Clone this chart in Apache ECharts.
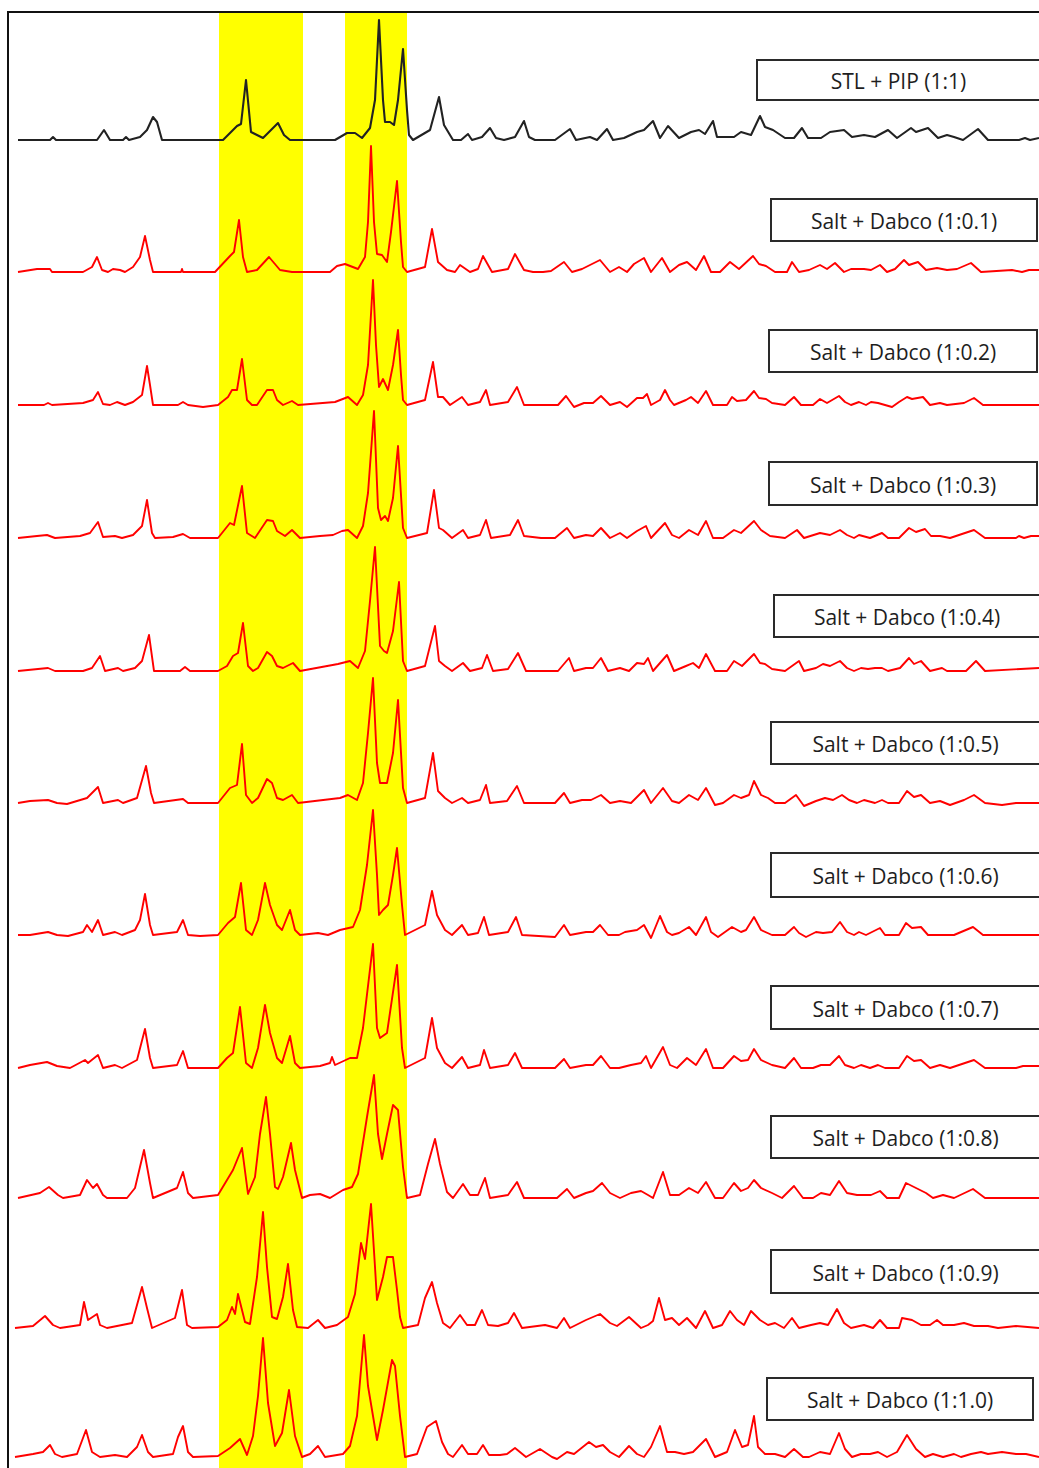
<!DOCTYPE html>
<html>
<head>
<meta charset="utf-8">
<script src="https://cdn.jsdelivr.net/npm/echarts@6/dist/echarts.min.js"></script>
<style>
html,body{margin:0;padding:0;background:#fff;}
#chart{width:1039px;height:1468px;}
</style>
</head>
<body>
<div id="chart"></div>
<script>
// Sample names (top to bottom)
const sampleNames = ['STL + PIP (1:1)','Salt + Dabco (1:0.1)','Salt + Dabco (1:0.2)','Salt + Dabco (1:0.3)','Salt + Dabco (1:0.4)','Salt + Dabco (1:0.5)','Salt + Dabco (1:0.6)','Salt + Dabco (1:0.7)','Salt + Dabco (1:0.8)','Salt + Dabco (1:0.9)','Salt + Dabco (1:1.0)'];
// Vertical stacking offsets of each pattern (intensity units)
const offsets = [1328, 1196, 1063, 930, 797, 665, 533, 400, 270, 140, 11];
// Highlighted 2θ ranges
const bands = [[10.95, 15.15], [17.25, 20.35]];

// Patterns: [2θ, intensity above own baseline]
const stlPip = [[0.9,0],[2.5,0],[2.65,3],[2.8,0],[4.85,0],[5.2,10],[5.5,0],[6.15,0],[6.3,3],[6.45,0],[7.0,3],[7.35,10],[7.65,23],[7.85,18],[8.1,0],[11.15,0],[11.5,7],[11.85,14],[12.05,16],[12.3,60],[12.55,8],[13.15,2],[13.9,17],[14.2,5],[14.5,0],[16.75,0],[17.35,7],[17.75,7],[18.1,2],[18.5,12],[18.75,40],[18.95,120],[19.15,40],[19.25,18],[19.5,18],[19.7,15],[19.9,40],[20.15,91],[20.35,30],[20.45,5],[20.65,0],[21.5,10],[21.95,43],[22.2,15],[22.35,10],[22.65,0],[23.05,0],[23.4,6],[23.6,0],[24.1,3],[24.5,12],[24.8,2],[25.2,0],[25.75,3],[26.2,19],[26.45,3],[26.75,0],[27.75,0],[28.5,11],[28.8,0],[29.5,3],[29.85,0],[30.35,11],[30.65,0],[31.2,2],[31.85,8],[32.2,10],[32.65,19],[33.0,2],[33.4,14],[33.95,2],[34.55,8],[34.95,10],[35.25,6],[35.65,19],[35.85,3],[36.7,3],[37.05,8],[37.55,5],[38.0,24],[38.25,13],[38.65,10],[39.25,2],[39.7,2],[40.1,12],[40.4,2],[41.05,2],[41.5,8],[42.2,10],[42.6,3],[43.2,5],[43.75,3],[44.4,10],[44.85,2],[45.55,12],[45.8,8],[46.4,12],[46.9,2],[47.35,5],[47.7,3],[48.15,0],[48.9,11],[49.4,0],[50.95,0],[51.25,2],[51.5,0],[51.95,2]];

const dabco01 = [[0.9,0],[1.85,3],[2.5,3],[2.6,0],[4.15,0],[4.6,5],[4.85,15],[5.1,2],[5.4,0],[5.65,3],[6.0,2],[6.25,0],[6.65,5],[7.0,15],[7.25,36],[7.5,12],[7.65,0],[9.05,0],[9.1,3],[9.15,0],[10.75,0],[11.5,16],[11.7,20],[11.95,52],[12.15,15],[12.35,0],[12.85,2],[13.45,15],[14.0,2],[14.6,0],[16.5,0],[16.85,6],[17.25,8],[17.9,3],[18.25,15],[18.4,50],[18.55,126],[18.7,50],[18.85,18],[19.1,17],[19.35,10],[19.55,40],[19.85,91],[20.05,30],[20.15,5],[20.35,0],[21.25,5],[21.6,43],[21.9,10],[22.35,2],[22.75,0],[23.0,7],[23.5,0],[23.9,3],[24.15,16],[24.6,0],[25.4,3],[25.75,18],[26.2,2],[26.65,0],[27.15,0],[27.55,1],[28.2,10],[28.6,0],[29.1,3],[30.0,12],[30.5,0],[30.95,5],[31.35,0],[31.7,8],[32.2,14],[32.55,0],[33.1,14],[33.5,0],[33.95,7],[34.35,10],[34.8,2],[35.2,16],[35.55,0],[36.0,0],[36.5,10],[36.95,3],[37.65,16],[37.95,8],[38.3,6],[38.75,0],[39.35,0],[39.6,10],[39.95,0],[40.45,2],[41.0,7],[41.35,3],[41.75,9],[42.2,0],[42.55,3],[43.2,3],[43.55,2],[44.0,7],[44.35,0],[44.75,3],[45.2,12],[45.45,7],[45.9,10],[46.3,2],[46.85,4],[47.35,2],[47.85,3],[48.55,9],[49.05,0],[50.6,2],[51.1,0],[51.45,2],[51.95,2]];

const dabco02 = [[0.9,0],[2.2,0],[2.4,2],[2.6,0],[4.15,2],[4.65,5],[4.9,13],[5.15,1],[5.5,0],[5.85,3],[6.25,0],[6.65,3],[7.1,10],[7.35,39],[7.5,20],[7.65,0],[8.9,0],[9.15,3],[9.4,0],[10.15,-2],[10.9,0],[11.4,8],[11.6,15],[11.85,15],[12.1,46],[12.35,5],[12.6,0],[12.85,0],[13.35,15],[13.65,15],[13.85,5],[14.15,0],[14.6,4],[14.9,0],[16.75,3],[17.4,8],[17.85,0],[18.15,10],[18.4,40],[18.65,125],[18.8,60],[18.95,18],[19.15,26],[19.4,15],[19.65,40],[19.9,75],[20.05,30],[20.15,5],[20.35,0],[21.25,5],[21.65,43],[21.9,8],[22.15,8],[22.5,0],[23.1,8],[23.4,0],[24.0,3],[24.3,15],[24.5,0],[25.4,3],[25.85,18],[26.2,0],[27.9,0],[28.3,9],[28.7,-2],[29.2,2],[29.65,2],[30.05,9],[30.5,0],[31.0,3],[31.35,-2],[31.85,7],[32.15,7],[32.35,11],[32.55,0],[33.0,5],[33.25,15],[33.5,5],[33.7,0],[34.3,5],[34.55,8],[34.9,2],[35.3,14],[35.65,0],[36.35,0],[36.6,8],[36.85,4],[37.3,5],[37.7,14],[37.95,7],[38.3,6],[38.6,2],[39.25,0],[39.7,8],[40.05,0],[40.65,0],[41.0,6],[41.35,2],[41.95,9],[42.25,3],[42.55,0],[42.95,3],[43.3,0],[43.55,3],[43.9,2],[44.6,-2],[44.95,3],[45.35,8],[45.6,6],[46.15,8],[46.5,0],[47.0,2],[47.35,0],[48.2,2],[48.7,7],[49.15,0],[51.95,0]];

const dabco03 = [[0.9,0],[1.85,2],[2.35,3],[2.75,0],[4.0,2],[4.5,5],[4.9,16],[5.15,1],[5.75,2],[6.1,0],[6.65,3],[7.1,12],[7.35,38],[7.6,5],[7.75,0],[8.65,1],[9.15,4],[9.5,0],[10.9,0],[11.5,15],[11.7,13],[12.1,52],[12.35,5],[12.75,0],[13.35,18],[13.65,17],[13.85,7],[14.25,2],[14.6,8],[15.0,0],[16.0,2],[16.65,3],[17.1,7],[17.4,8],[17.85,0],[18.15,12],[18.4,45],[18.7,127],[18.9,30],[19.05,18],[19.25,22],[19.4,17],[19.65,40],[19.9,92],[20.15,10],[20.35,0],[21.35,5],[21.7,48],[21.95,10],[22.15,8],[22.6,0],[23.15,8],[23.4,0],[24.0,3],[24.3,18],[24.55,0],[25.5,3],[25.9,18],[26.2,2],[27.05,0],[27.75,0],[28.35,10],[28.7,0],[29.3,3],[29.65,2],[30.05,10],[30.5,0],[31.0,5],[31.35,0],[31.85,7],[32.3,12],[32.55,0],[33.25,15],[33.6,3],[33.95,0],[34.45,8],[34.9,3],[35.3,17],[35.65,0],[36.15,0],[36.7,8],[37.05,5],[37.7,17],[38.05,8],[38.5,2],[39.25,0],[39.85,8],[40.2,0],[41.0,5],[41.5,3],[42.0,8],[42.35,3],[42.7,0],[42.95,3],[43.5,0],[44.1,5],[44.4,0],[44.95,0],[45.45,10],[45.8,6],[46.25,9],[46.55,2],[47.0,2],[47.5,0],[48.7,8],[49.25,0],[50.8,0],[50.95,2],[51.2,0],[51.55,2],[51.95,2]];

const dabco04 = [[0.9,0],[2.4,3],[2.75,0],[4.15,0],[4.6,3],[5.0,15],[5.25,0],[5.9,3],[6.15,0],[6.75,3],[7.1,10],[7.45,36],[7.7,0],[9.0,0],[9.25,4],[9.5,0],[10.9,0],[11.35,5],[11.65,15],[11.9,18],[12.15,48],[12.4,5],[12.65,0],[12.9,3],[13.35,19],[13.6,15],[13.85,5],[14.15,3],[14.65,8],[15.0,0],[16.9,7],[17.5,10],[17.9,3],[18.25,20],[18.5,70],[18.75,124],[19.0,25],[19.2,20],[19.35,18],[19.65,40],[19.95,89],[20.15,10],[20.35,0],[21.25,5],[21.75,45],[21.95,10],[22.25,5],[22.6,0],[23.15,8],[23.5,0],[24.1,3],[24.35,16],[24.65,0],[25.4,2],[25.9,18],[26.3,0],[27.9,0],[28.45,13],[28.7,0],[29.3,3],[29.65,3],[30.05,13],[30.4,0],[31.0,3],[31.45,0],[31.85,8],[32.2,7],[32.4,13],[32.65,0],[33.0,8],[33.35,16],[33.7,0],[34.3,5],[34.65,8],[34.95,3],[35.3,17],[35.75,0],[36.35,0],[36.7,10],[37.1,5],[37.7,17],[38.0,8],[38.25,7],[38.6,2],[39.25,0],[39.95,10],[40.2,0],[40.8,3],[41.15,7],[41.5,5],[42.0,10],[42.35,3],[42.7,0],[43.05,3],[43.4,2],[43.75,3],[44.1,3],[44.4,0],[45.0,3],[45.45,13],[45.7,7],[46.05,10],[46.5,0],[47.1,3],[47.35,0],[48.3,0],[48.8,10],[49.25,0],[51.95,3]];

const dabco05 = [[0.9,0],[1.5,2],[2.4,3],[2.85,0],[3.35,-1],[4.35,5],[4.9,16],[5.15,0],[5.9,3],[6.15,0],[6.85,5],[7.3,37],[7.55,10],[7.7,0],[9.15,4],[9.4,0],[10.9,0],[11.5,15],[11.85,18],[12.1,59],[12.3,8],[12.6,0],[12.9,5],[13.35,24],[13.6,20],[13.85,5],[14.15,3],[14.6,8],[14.9,0],[17.0,5],[17.4,8],[17.85,3],[18.15,20],[18.4,70],[18.65,125],[18.85,40],[19.0,20],[19.35,20],[19.65,50],[19.9,103],[20.15,15],[20.35,0],[21.25,5],[21.65,50],[21.9,12],[22.25,5],[22.6,0],[23.1,5],[23.4,0],[24.0,3],[24.3,18],[24.5,0],[25.35,2],[25.85,17],[26.2,0],[27.75,0],[28.2,10],[28.5,0],[29.1,3],[29.55,3],[30.05,8],[30.5,0],[31.0,2],[31.55,0],[31.85,6],[32.2,13],[32.55,0],[33.15,15],[33.6,2],[33.95,0],[34.45,8],[34.9,3],[35.3,15],[35.75,-2],[36.15,0],[36.7,8],[37.05,5],[37.45,8],[37.7,22],[38.05,8],[38.4,5],[38.75,0],[39.25,0],[39.8,8],[40.2,-3],[40.8,2],[41.25,5],[41.65,3],[42.1,8],[42.45,3],[42.85,0],[43.2,3],[43.75,0],[44.1,3],[44.4,0],[44.95,0],[45.35,12],[45.7,6],[46.05,8],[46.5,0],[47.0,2],[47.5,-2],[48.2,3],[48.7,8],[49.25,0],[50.1,-2],[50.8,0],[51.95,0]];

const dabco06 = [[0.9,0],[1.5,0],[2.4,3],[2.85,0],[3.4,-1],[4.15,3],[4.35,10],[4.6,3],[4.9,15],[5.15,0],[5.75,3],[6.1,0],[6.75,5],[7.0,15],[7.25,41],[7.5,10],[7.65,0],[8.85,3],[9.15,15],[9.4,0],[10.0,-1],[10.9,0],[11.4,12],[11.75,18],[12.05,52],[12.3,5],[12.6,0],[12.9,15],[13.25,52],[13.5,30],[13.85,10],[14.1,5],[14.5,25],[14.75,5],[15.0,0],[15.9,2],[16.4,0],[17.0,5],[17.65,8],[18.0,25],[18.35,70],[18.65,125],[18.85,60],[18.95,20],[19.15,25],[19.4,30],[19.65,60],[19.85,87],[20.1,30],[20.25,0],[21.25,10],[21.6,44],[21.85,20],[22.25,5],[22.6,0],[23.1,10],[23.4,0],[23.9,2],[24.2,18],[24.45,0],[25.4,3],[25.8,18],[26.1,0],[27.75,-2],[28.2,10],[28.5,0],[29.3,3],[29.65,3],[30.0,10],[30.4,0],[30.95,0],[31.25,3],[31.85,5],[32.2,10],[32.55,-3],[33.0,19],[33.35,3],[33.6,0],[33.95,2],[34.45,8],[34.8,0],[35.3,18],[35.55,3],[35.9,-2],[36.6,8],[37.05,3],[37.3,5],[37.7,18],[38.05,5],[38.6,0],[39.25,0],[39.7,8],[39.95,2],[40.3,-2],[40.8,3],[41.15,2],[41.6,3],[42.0,13],[42.35,3],[42.7,0],[42.95,3],[43.3,0],[44.0,7],[44.25,0],[44.95,0],[45.3,12],[45.6,7],[46.05,8],[46.4,0],[47.15,0],[47.7,0],[48.65,8],[49.15,0],[51.95,0]];

const dabco07 = [[0.9,0],[1.5,3],[2.35,6],[2.85,2],[3.5,0],[4.25,8],[4.4,5],[4.9,13],[5.15,0],[5.75,3],[6.1,0],[6.85,8],[7.25,39],[7.5,10],[7.65,0],[8.85,3],[9.15,17],[9.4,0],[10.9,0],[11.35,10],[11.65,15],[12.0,61],[12.3,5],[12.6,0],[12.9,20],[13.25,63],[13.5,35],[13.85,10],[14.1,5],[14.5,32],[14.75,5],[15.0,0],[16.0,2],[16.5,5],[16.6,11],[16.75,3],[17.5,10],[17.85,10],[18.15,40],[18.65,124],[18.85,40],[19.0,30],[19.35,35],[19.85,103],[20.1,20],[20.25,0],[21.25,10],[21.6,50],[21.85,20],[22.25,5],[22.6,0],[23.1,11],[23.4,0],[24.0,3],[24.2,18],[24.5,0],[25.4,3],[25.75,15],[26.1,0],[27.75,0],[28.2,9],[28.5,0],[29.3,3],[29.65,3],[30.05,12],[30.5,0],[30.95,0],[31.55,3],[32.05,5],[32.3,12],[32.55,0],[33.15,21],[33.5,3],[33.85,0],[34.35,10],[34.8,3],[35.3,19],[35.65,0],[36.15,0],[36.7,12],[37.05,7],[37.4,8],[37.7,19],[38.05,8],[38.6,3],[39.25,0],[39.7,10],[40.05,0],[40.65,0],[41.05,3],[41.5,3],[41.95,12],[42.25,3],[42.7,0],[43.05,3],[43.5,0],[43.9,3],[44.25,0],[44.95,0],[45.35,12],[45.7,7],[46.05,8],[46.5,0],[47.0,3],[47.5,0],[48.7,8],[49.25,0],[50.8,0],[51.15,2],[51.95,2]];

const dabco08 = [[0.9,0],[2.0,5],[2.45,11],[2.9,3],[3.15,0],[4.0,3],[4.35,18],[4.65,10],[4.85,14],[5.15,3],[5.35,0],[6.35,0],[6.75,10],[7.2,48],[7.5,15],[7.65,0],[8.85,10],[9.15,26],[9.4,5],[9.65,0],[10.9,3],[11.65,28],[12.1,50],[12.4,4],[12.75,21],[13.0,64],[13.3,101],[13.5,64],[13.75,11],[13.9,9],[14.15,21],[14.55,55],[14.75,28],[15.1,0],[15.5,3],[16.0,4],[16.5,0],[17.15,8],[17.6,11],[17.9,24],[18.35,81],[18.7,123],[18.9,64],[19.1,39],[19.35,64],[19.65,93],[19.9,88],[20.15,31],[20.35,0],[21.0,3],[21.4,34],[21.75,59],[22.0,34],[22.35,6],[22.65,0],[23.15,14],[23.5,3],[23.9,3],[24.25,20],[24.5,0],[25.4,3],[25.85,16],[26.2,0],[27.25,0],[27.85,0],[28.35,9],[28.7,0],[29.3,5],[29.65,7],[30.1,15],[30.5,5],[31.0,0],[31.55,5],[32.05,7],[32.4,3],[32.65,0],[33.15,26],[33.5,3],[33.95,3],[34.45,10],[34.9,5],[35.3,16],[35.75,0],[36.15,0],[36.7,15],[37.05,7],[37.4,10],[37.7,18],[38.05,10],[38.6,5],[39.1,0],[39.7,12],[40.15,0],[40.65,0],[41.05,5],[41.5,3],[41.95,17],[42.35,5],[42.85,3],[43.55,3],[44.0,7],[44.35,0],[44.95,0],[45.3,15],[45.8,10],[46.3,5],[46.65,0],[47.15,3],[47.7,0],[48.65,9],[49.25,0],[51.95,0]];

const dabco09 = [[0.75,0],[1.65,2],[2.25,12],[2.65,3],[3.0,0],[4.0,3],[4.2,26],[4.4,8],[4.85,14],[5.0,3],[5.35,0],[6.6,5],[7.1,41],[7.35,20],[7.6,0],[8.75,10],[9.1,38],[9.35,3],[9.6,0],[10.9,1],[11.35,8],[11.6,21],[11.75,14],[11.9,34],[12.25,6],[12.5,4],[12.85,51],[13.15,116],[13.35,61],[13.6,11],[13.85,9],[14.15,31],[14.4,64],[14.65,18],[14.85,1],[15.4,0],[15.9,8],[16.25,0],[16.85,3],[17.4,11],[17.75,34],[18.05,85],[18.25,69],[18.55,124],[18.75,61],[18.85,28],[19.15,51],[19.35,71],[19.65,71],[19.85,38],[20.0,11],[20.15,0],[20.9,3],[21.25,30],[21.6,46],[21.85,25],[22.15,5],[22.5,0],[23.0,13],[23.35,3],[23.75,3],[24.1,18],[24.4,3],[24.9,2],[25.4,5],[25.7,15],[26.1,0],[27.25,3],[27.85,0],[28.2,10],[28.5,0],[29.3,8],[30.0,14],[30.5,5],[30.85,2],[31.45,11],[32.05,0],[32.4,3],[32.65,7],[32.95,30],[33.25,8],[33.6,10],[33.95,3],[34.35,10],[34.8,0],[35.25,17],[35.65,0],[36.1,3],[36.5,17],[36.85,8],[37.2,3],[37.55,17],[38.0,8],[38.4,3],[38.75,5],[39.2,0],[39.6,10],[39.95,0],[40.55,3],[41.0,5],[41.4,3],[41.85,19],[42.2,5],[42.55,0],[43.2,3],[43.65,0],[44.0,8],[44.35,0],[44.95,0],[45.1,10],[45.6,8],[46.05,3],[46.5,3],[46.85,8],[47.15,3],[47.7,3],[48.2,5],[48.7,2],[49.4,2],[49.9,0],[50.8,2],[51.95,0]];

const dabco10 = [[0.75,0],[1.65,3],[2.15,5],[2.5,12],[2.75,3],[3.1,0],[3.85,3],[4.3,27],[4.6,5],[5.0,0],[5.75,2],[6.35,0],[6.85,10],[7.1,22],[7.4,5],[7.65,0],[8.65,3],[8.9,20],[9.15,31],[9.4,5],[9.65,0],[10.9,1],[11.5,9],[12.0,18],[12.35,2],[12.65,21],[12.9,61],[13.15,119],[13.4,54],[13.75,11],[14.1,24],[14.45,67],[14.75,21],[15.1,0],[15.5,3],[15.9,11],[16.25,0],[17.15,3],[17.5,11],[17.85,41],[18.2,122],[18.4,71],[18.85,17],[19.15,47],[19.6,97],[19.75,91],[20.0,41],[20.25,0],[20.85,3],[21.35,30],[21.8,36],[22.1,15],[22.4,3],[22.65,0],[23.1,12],[23.4,3],[23.85,3],[24.15,12],[24.45,2],[25.0,2],[25.35,3],[25.75,9],[26.3,0],[27.0,8],[27.6,0],[27.85,-2],[28.35,5],[28.7,3],[29.45,15],[29.8,10],[30.15,12],[30.5,5],[30.95,0],[31.45,11],[31.85,3],[32.2,0],[32.55,10],[33.0,31],[33.35,5],[33.75,5],[34.2,3],[34.65,5],[35.3,18],[35.75,0],[36.35,5],[36.75,27],[37.1,10],[37.4,12],[37.7,41],[37.9,10],[38.25,3],[38.75,3],[39.25,0],[39.7,8],[40.15,0],[40.45,0],[41.0,5],[41.5,3],[41.95,24],[42.25,8],[42.6,0],[43.05,3],[43.5,3],[43.9,5],[44.35,0],[44.85,5],[45.35,22],[45.8,8],[46.25,0],[46.65,3],[47.15,0],[47.7,3],[48.05,0],[48.55,3],[49.05,5],[49.4,3],[50.1,5],[50.8,3],[51.3,3],[51.95,0]];

const patterns = [stlPip, dabco01, dabco02, dabco03, dabco04, dabco05, dabco06, dabco07, dabco08, dabco09, dabco10];

// ---- layout (pixels) for label boxes: [left, top, right, bottom]
const labelBoxes = [[757,60,1040,100],[771,199,1037,241],[769,330,1037,372],[769,462,1037,505],[774,595,1040,637],[771,722,1040,764],[771,853,1040,897],[771,986,1040,1029],[771,1116,1040,1158],[771,1250,1040,1293],[767,1378,1033,1420]];

const chart = echarts.init(document.getElementById('chart'), null, {renderer: 'svg'});

const series = [{
  type: 'line', data: [], z: 1, silent: true,
  markArea: {
    silent: true,
    itemStyle: {color: '#FFFF00', opacity: 1},
    data: bands.map(b => [{xAxis: b[0]}, {xAxis: b[1]}])
  }
}];
patterns.forEach((p, i) => {
  series.push({
    type: 'line',
    name: sampleNames[i],
    z: 2,
    showSymbol: false,
    clip: false,
    animation: false,
    lineStyle: {color: i === 0 ? '#222222' : '#ff0000', width: i === 0 ? 2.1 : 1.9, join: 'round'},
    data: p.map(d => [d[0], d[1] + offsets[i]])
  });
});

const graphics = [{
  type: 'rect', z: 100,
  shape: {x: 8, y: 12, width: 1050, height: 1480},
  style: {fill: 'none', stroke: '#111', lineWidth: 2}
}];
labelBoxes.forEach((b, i) => {
  graphics.push({
    type: 'rect', z: 100,
    shape: {x: b[0], y: b[1], width: b[2] - b[0], height: b[3] - b[1]},
    style: {fill: '#fff', stroke: '#2a2a2a', lineWidth: 2}
  });
  graphics.push({
    type: 'text', z: 101,
    x: (b[0] + b[2]) / 2, y: (b[1] + b[3]) / 2 + 1,
    style: {
      text: sampleNames[i], fill: '#1e1e1e',
      font: '21px "Open Sans"',
      textAlign: 'center', textVerticalAlign: 'middle',
      align: 'center', verticalAlign: 'middle'
    }
  });
});

chart.setOption({
  animation: false,
  backgroundColor: '#fff',
  grid: {left: 0, right: 0, top: 13, bottom: 0},
  xAxis: {type: 'value', min: 0, max: 51.95, show: false},
  yAxis: {type: 'value', min: 0, max: 1455, show: false},
  series: series,
  graphic: graphics
});
</script>
</body>
</html>
